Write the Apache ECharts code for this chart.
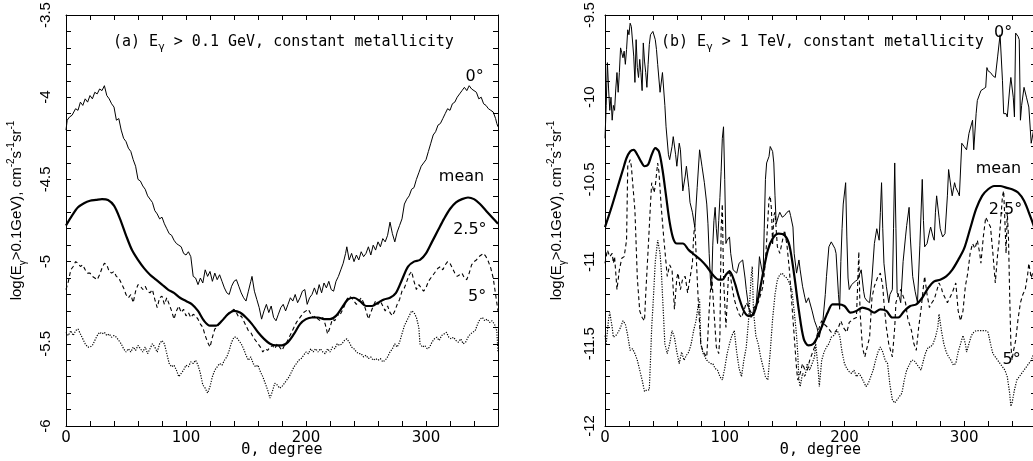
<!DOCTYPE html>
<html><head><meta charset="utf-8">
<script src="https://cdn.jsdelivr.net/npm/echarts@6/dist/echarts.min.js"></script>
<style>html,body{margin:0;padding:0;background:#fff}#c{width:1033px;height:461px}</style>
</head><body><div id="c"></div>
<script>
// ---------- tick labels ----------
const xTickLabels = [0, 100, 200, 300];
const yTickLabelsA = [-6, -5.5, -5, -4.5, -4, -3.5];
const yTickLabelsB = [-12, -11.5, -11, -10.5, -10, -9.5];

// ---------- curve labels [theta, value, text] ----------
const curveLabelsA = [[341, -3.88, '0°'], [330, -4.49, 'mean'], [337, -4.81, '2.5°'], [343, -5.22, '5°']];
const curveLabelsB = [[333, -9.61, '0°'], [329, -10.44, 'mean'], [335, -10.69, '2.5°'], [340, -11.6, '5°']];

// ---------- panel (a): E > 0.1 GeV ----------
const a0 = [[0,-4.2],[1,-4.14],[3,-4.12],[5,-4.11],[8,-4.07],[10,-4.08],[12,-4.03],[14,-4.05],[16,-4.01],[18,-4.03],[20,-3.99],[22,-4.01],[24,-3.97],[26,-3.98],[28,-3.95],[30,-3.96],[32,-3.93],[33,-3.92],[34,-3.99],[36,-4.01],[38,-4.04],[40,-4.06],[42,-4.14],[44,-4.13],[46,-4.2],[48,-4.25],[50,-4.27],[52,-4.31],[54,-4.33],[56,-4.38],[58,-4.42],[60,-4.5],[62,-4.51],[64,-4.54],[66,-4.56],[68,-4.6],[70,-4.62],[72,-4.64],[74,-4.69],[76,-4.71],[78,-4.74],[80,-4.73],[82,-4.77],[84,-4.8],[86,-4.83],[88,-4.84],[90,-4.87],[92,-4.89],[94,-4.9],[96,-4.91],[98,-4.95],[100,-4.96],[102,-4.94],[104,-4.97],[105,-4.96],[106,-5.09],[108,-5.1],[110,-5.14],[112,-5.1],[114,-5.13],[116,-5.05],[118,-5.09],[120,-5.06],[122,-5.12],[124,-5.07],[126,-5.11],[128,-5.08],[130,-5.12],[132,-5.16],[134,-5.19],[136,-5.2],[138,-5.15],[140,-5.12],[142,-5.11],[144,-5.15],[146,-5.19],[148,-5.22],[150,-5.24],[152,-5.18],[154,-5.12],[155,-5.09],[157,-5.18],[159,-5.23],[161,-5.28],[163,-5.35],[165,-5.3],[167,-5.26],[169,-5.31],[171,-5.27],[173,-5.34],[175,-5.36],[177,-5.32],[179,-5.28],[181,-5.26],[183,-5.3],[185,-5.26],[187,-5.22],[189,-5.24],[191,-5.2],[193,-5.25],[195,-5.22],[197,-5.18],[199,-5.17],[201,-5.26],[203,-5.22],[205,-5.2],[207,-5.16],[209,-5.2],[211,-5.14],[213,-5.19],[215,-5.13],[217,-5.16],[219,-5.12],[221,-5.17],[223,-5.18],[225,-5.12],[227,-5.09],[229,-5.05],[231,-5.01],[233,-4.95],[234,-4.91],[236,-4.99],[238,-4.95],[240,-5.0],[242,-4.96],[244,-4.99],[246,-4.94],[248,-4.97],[250,-4.95],[252,-4.91],[254,-4.96],[256,-4.9],[258,-4.93],[260,-4.88],[262,-4.91],[264,-4.86],[266,-4.88],[268,-4.84],[270,-4.76],[272,-4.83],[274,-4.88],[276,-4.82],[278,-4.78],[280,-4.74],[282,-4.65],[284,-4.62],[286,-4.6],[288,-4.56],[290,-4.55],[292,-4.5],[294,-4.46],[296,-4.42],[298,-4.4],[300,-4.38],[302,-4.33],[304,-4.28],[306,-4.23],[308,-4.21],[310,-4.17],[312,-4.16],[314,-4.13],[316,-4.1],[318,-4.07],[320,-4.08],[322,-4.04],[324,-4.03],[326,-4.0],[328,-3.98],[330,-3.96],[332,-3.94],[334,-3.96],[336,-3.93],[338,-3.95],[340,-3.96],[342,-3.97],[344,-4.01],[346,-4.0],[348,-4.04],[350,-4.05],[352,-4.07],[354,-4.08],[356,-4.09],[358,-4.13],[359,-4.16],[360,-4.18]];
const aMean = [[0,-4.78],[5,-4.72],[10,-4.67],[15,-4.645],[20,-4.63],[25,-4.625],[30,-4.62],[35,-4.625],[40,-4.66],[45,-4.74],[50,-4.84],[55,-4.93],[60,-4.99],[65,-5.04],[70,-5.08],[75,-5.11],[80,-5.14],[85,-5.17],[90,-5.19],[95,-5.22],[100,-5.24],[105,-5.26],[110,-5.3],[115,-5.36],[120,-5.39],[125,-5.39],[130,-5.36],[135,-5.32],[140,-5.3],[145,-5.31],[150,-5.34],[155,-5.38],[160,-5.43],[165,-5.47],[170,-5.5],[175,-5.51],[180,-5.51],[185,-5.49],[190,-5.44],[195,-5.38],[200,-5.35],[205,-5.34],[210,-5.34],[215,-5.35],[220,-5.35],[225,-5.33],[230,-5.28],[235,-5.23],[240,-5.22],[245,-5.24],[250,-5.27],[255,-5.27],[260,-5.25],[265,-5.23],[270,-5.22],[275,-5.19],[280,-5.11],[285,-5.03],[290,-5.0],[295,-4.99],[300,-4.95],[305,-4.88],[310,-4.81],[315,-4.74],[320,-4.68],[325,-4.64],[330,-4.62],[335,-4.61],[340,-4.62],[345,-4.65],[350,-4.69],[355,-4.73],[360,-4.77]];
const a25 = [[0,-5.17],[2,-5.12],[4,-5.05],[6,-5.03],[8,-5.0],[10,-5.01],[12,-5.03],[14,-5.02],[16,-5.05],[18,-5.07],[20,-5.07],[22,-5.09],[24,-5.1],[26,-5.11],[28,-5.08],[30,-5.04],[32,-5.01],[34,-5.02],[36,-5.06],[38,-5.07],[40,-5.06],[42,-5.09],[44,-5.1],[46,-5.13],[48,-5.16],[50,-5.2],[52,-5.22],[54,-5.2],[56,-5.25],[58,-5.18],[60,-5.14],[62,-5.15],[64,-5.17],[66,-5.15],[68,-5.18],[70,-5.19],[72,-5.17],[74,-5.23],[76,-5.28],[78,-5.22],[80,-5.21],[82,-5.26],[84,-5.22],[86,-5.26],[88,-5.3],[90,-5.35],[92,-5.3],[94,-5.27],[96,-5.31],[98,-5.29],[100,-5.33],[102,-5.31],[104,-5.34],[106,-5.32],[108,-5.33],[110,-5.35],[112,-5.38],[114,-5.4],[116,-5.45],[118,-5.49],[120,-5.52],[122,-5.46],[124,-5.41],[126,-5.4],[128,-5.37],[130,-5.36],[132,-5.34],[134,-5.33],[136,-5.31],[138,-5.3],[140,-5.29],[142,-5.31],[144,-5.34],[146,-5.33],[148,-5.36],[150,-5.39],[152,-5.42],[154,-5.43],[156,-5.46],[158,-5.48],[160,-5.5],[162,-5.52],[164,-5.55],[166,-5.53],[168,-5.54],[170,-5.52],[172,-5.51],[174,-5.53],[176,-5.5],[178,-5.52],[180,-5.54],[182,-5.51],[184,-5.49],[186,-5.46],[188,-5.43],[190,-5.4],[192,-5.37],[194,-5.35],[196,-5.33],[198,-5.31],[200,-5.3],[202,-5.29],[204,-5.32],[206,-5.34],[208,-5.33],[210,-5.35],[212,-5.36],[214,-5.34],[216,-5.38],[218,-5.44],[220,-5.4],[222,-5.35],[224,-5.36],[226,-5.32],[228,-5.33],[230,-5.3],[232,-5.27],[234,-5.23],[236,-5.21],[238,-5.22],[240,-5.24],[242,-5.26],[244,-5.24],[246,-5.22],[248,-5.25],[250,-5.3],[252,-5.35],[254,-5.31],[256,-5.27],[258,-5.24],[260,-5.26],[262,-5.24],[264,-5.27],[266,-5.3],[268,-5.27],[270,-5.31],[272,-5.33],[274,-5.3],[276,-5.26],[278,-5.23],[280,-5.18],[282,-5.16],[284,-5.12],[286,-5.08],[288,-5.06],[290,-5.12],[292,-5.17],[294,-5.14],[296,-5.16],[298,-5.18],[300,-5.16],[302,-5.12],[304,-5.1],[306,-5.08],[308,-5.06],[310,-5.04],[312,-5.03],[314,-5.05],[316,-5.02],[318,-5.0],[320,-5.01],[322,-5.04],[324,-5.07],[326,-5.09],[328,-5.08],[330,-5.07],[332,-5.1],[334,-5.11],[336,-5.07],[338,-5.02],[340,-5.0],[342,-4.99],[344,-4.97],[346,-4.96],[348,-4.95],[350,-4.97],[352,-5.0],[354,-5.04],[356,-5.1],[358,-5.2],[360,-5.3]];
const a5 = [[0,-5.43],[2,-5.45],[4,-5.42],[6,-5.45],[8,-5.42],[10,-5.41],[12,-5.44],[14,-5.47],[16,-5.5],[18,-5.52],[20,-5.52],[22,-5.51],[24,-5.48],[26,-5.45],[28,-5.43],[30,-5.44],[32,-5.43],[34,-5.45],[36,-5.44],[38,-5.46],[40,-5.45],[42,-5.46],[44,-5.48],[46,-5.5],[48,-5.53],[50,-5.55],[52,-5.53],[54,-5.55],[56,-5.52],[58,-5.54],[60,-5.51],[62,-5.53],[64,-5.55],[66,-5.52],[68,-5.56],[70,-5.53],[72,-5.5],[74,-5.52],[76,-5.55],[78,-5.5],[80,-5.48],[82,-5.5],[84,-5.56],[86,-5.62],[88,-5.64],[90,-5.63],[92,-5.66],[94,-5.7],[96,-5.68],[98,-5.66],[100,-5.63],[102,-5.64],[104,-5.61],[106,-5.62],[108,-5.6],[110,-5.63],[112,-5.68],[114,-5.75],[116,-5.77],[118,-5.8],[120,-5.76],[122,-5.7],[124,-5.66],[126,-5.64],[128,-5.62],[130,-5.63],[132,-5.6],[134,-5.58],[136,-5.54],[138,-5.49],[140,-5.46],[142,-5.46],[144,-5.48],[146,-5.5],[148,-5.53],[150,-5.57],[152,-5.6],[154,-5.58],[156,-5.62],[158,-5.64],[160,-5.63],[162,-5.67],[164,-5.7],[166,-5.74],[168,-5.78],[170,-5.83],[172,-5.79],[174,-5.74],[176,-5.75],[178,-5.77],[180,-5.76],[182,-5.74],[184,-5.72],[186,-5.7],[188,-5.67],[190,-5.64],[192,-5.62],[194,-5.6],[196,-5.59],[198,-5.57],[200,-5.55],[202,-5.56],[204,-5.53],[206,-5.55],[208,-5.53],[210,-5.55],[212,-5.53],[214,-5.55],[216,-5.56],[218,-5.53],[220,-5.55],[222,-5.52],[224,-5.53],[226,-5.5],[228,-5.51],[230,-5.5],[232,-5.48],[234,-5.47],[236,-5.49],[238,-5.52],[240,-5.53],[242,-5.55],[244,-5.56],[246,-5.56],[248,-5.58],[250,-5.57],[252,-5.59],[254,-5.58],[256,-5.6],[258,-5.59],[260,-5.6],[262,-5.59],[264,-5.61],[266,-5.6],[268,-5.58],[270,-5.55],[272,-5.53],[274,-5.5],[276,-5.52],[278,-5.49],[280,-5.44],[282,-5.39],[284,-5.36],[286,-5.33],[288,-5.3],[290,-5.31],[292,-5.34],[294,-5.4],[295,-5.5],[297,-5.52],[299,-5.51],[301,-5.53],[303,-5.52],[305,-5.49],[307,-5.47],[309,-5.46],[311,-5.48],[313,-5.45],[315,-5.44],[317,-5.43],[319,-5.46],[321,-5.47],[323,-5.46],[325,-5.48],[327,-5.49],[329,-5.47],[331,-5.5],[333,-5.49],[335,-5.46],[337,-5.44],[339,-5.43],[341,-5.42],[343,-5.38],[345,-5.35],[347,-5.34],[349,-5.36],[351,-5.35],[353,-5.37],[355,-5.36],[357,-5.38],[359,-5.42],[360,-5.55]];

// ---------- panel (b): E > 1 TeV ----------
const b0 = [[0,-10.25],[1,-10.05],[2,-9.79],[3,-9.95],[4,-10.08],[5,-10.0],[6,-10.14],[7,-10.05],[8,-10.08],[9,-9.95],[10,-9.85],[11,-9.97],[12,-9.85],[13,-9.7],[14,-9.73],[15,-9.76],[16,-9.72],[17,-9.8],[18,-9.71],[19,-9.59],[20,-9.62],[21,-9.55],[22,-9.57],[23,-9.58],[24,-9.75],[25,-9.91],[26,-9.65],[27,-9.82],[28,-9.88],[29,-9.77],[30,-9.85],[31,-9.96],[32,-9.67],[33,-9.78],[34,-9.85],[35,-9.94],[36,-9.8],[37,-9.68],[38,-9.62],[40,-9.6],[42,-9.65],[43,-9.71],[44,-9.8],[46,-9.97],[48,-9.85],[50,-10.05],[51,-10.18],[53,-10.35],[54,-10.38],[56,-10.3],[57,-10.24],[59,-10.35],[60,-10.42],[62,-10.28],[63,-10.32],[65,-10.57],[67,-10.48],[68,-10.42],[70,-10.55],[71,-10.64],[73,-10.7],[75,-10.79],[77,-10.55],[79,-10.32],[81,-10.42],[83,-10.52],[85,-10.65],[86,-10.77],[87,-10.95],[88,-11.1],[89,-11.17],[90,-10.9],[91,-10.75],[92,-10.67],[93,-10.8],[94,-10.89],[95,-10.75],[96,-10.61],[97,-10.45],[98,-10.25],[99,-10.18],[100,-10.5],[101,-10.89],[102,-10.87],[104,-10.85],[105,-10.95],[107,-11.05],[110,-11.07],[112,-11.01],[115,-10.99],[117,-11.1],[118,-11.17],[120,-11.28],[122,-11.34],[124,-11.3],[126,-11.29],[128,-11.1],[129,-10.97],[131,-11.05],[132,-11.09],[133,-10.8],[134,-10.5],[135,-10.4],[137,-10.36],[138,-10.3],[139,-10.29],[140,-10.33],[141,-10.4],[142,-10.6],[143,-10.77],[145,-10.72],[146,-10.7],[148,-10.73],[150,-10.72],[152,-10.7],[154,-10.69],[155,-10.72],[157,-10.79],[158,-10.95],[160,-11.07],[162,-10.99],[163,-11.05],[165,-11.15],[167,-11.22],[168,-11.25],[170,-11.22],[171,-11.23],[173,-11.3],[175,-11.36],[177,-11.4],[179,-11.46],[180,-11.42],[182,-11.36],[184,-11.2],[185,-11.09],[187,-10.91],[189,-10.88],[190,-10.87],[192,-10.92],[193,-10.95],[195,-11.2],[196,-11.29],[197,-11.0],[198,-10.8],[199,-10.65],[201,-10.52],[202,-10.85],[203,-11.1],[204,-11.17],[206,-11.14],[207,-11.13],[209,-11.12],[211,-11.11],[213,-11.07],[214,-11.05],[216,-11.18],[217,-11.22],[219,-11.24],[221,-11.25],[223,-11.1],[225,-10.89],[227,-10.8],[228,-10.79],[229,-10.87],[230,-10.7],[231,-10.52],[232,-10.8],[233,-11.01],[235,-11.15],[237,-11.25],[238,-11.2],[240,-11.17],[241,-10.8],[242,-10.4],[243,-10.8],[244,-11.19],[246,-11.22],[247,-11.25],[249,-11.0],[251,-10.85],[252,-10.78],[254,-10.67],[255,-10.85],[257,-11.09],[259,-11.18],[261,-11.25],[263,-10.9],[265,-10.5],[266,-10.75],[267,-10.91],[269,-10.89],[271,-10.82],[272,-10.79],[274,-10.85],[275,-10.87],[276,-10.7],[277,-10.6],[279,-10.73],[280,-10.8],[282,-10.85],[284,-10.83],[286,-10.6],[287,-10.44],[289,-10.55],[290,-10.6],[292,-10.52],[293,-10.55],[295,-10.58],[296,-10.6],[298,-10.28],[300,-10.3],[302,-10.32],[304,-10.22],[307,-10.14],[308,-10.32],[310,-10.1],[311,-10.02],[313,-9.98],[314,-9.96],[316,-9.95],[318,-9.94],[319,-9.82],[320,-9.84],[322,-9.85],[324,-9.87],[326,-9.88],[328,-9.75],[330,-9.62],[331,-9.61],[332,-9.9],[333,-10.1],[335,-10.1],[336,-10.12],[338,-9.95],[339,-9.88],[341,-10.0],[342,-10.12],[343,-9.61],[345,-9.63],[346,-9.65],[347,-10.14],[348,-10.05],[350,-9.94],[352,-10.0],[354,-10.06],[356,-10.28],[358,-10.2],[360,-10.15]];
const bMean = [[0,-10.79],[5,-10.68],[10,-10.56],[15,-10.44],[18,-10.37],[21,-10.33],[24,-10.32],[27,-10.35],[30,-10.39],[33,-10.42],[36,-10.41],[39,-10.35],[42,-10.31],[45,-10.33],[48,-10.44],[51,-10.6],[54,-10.76],[57,-10.86],[60,-10.89],[65,-10.89],[70,-10.93],[75,-10.96],[80,-10.99],[85,-11.03],[90,-11.08],[95,-11.11],[98,-11.11],[101,-11.08],[104,-11.06],[108,-11.12],[112,-11.22],[116,-11.3],[120,-11.33],[124,-11.32],[128,-11.22],[132,-11.07],[136,-10.93],[140,-10.86],[145,-10.83],[150,-10.84],[154,-10.9],[158,-11.08],[162,-11.3],[166,-11.47],[170,-11.51],[174,-11.5],[178,-11.45],[182,-11.38],[186,-11.31],[190,-11.26],[195,-11.26],[200,-11.27],[205,-11.31],[210,-11.3],[215,-11.28],[220,-11.29],[225,-11.31],[230,-11.29],[235,-11.3],[240,-11.34],[245,-11.34],[250,-11.3],[255,-11.27],[260,-11.26],[265,-11.22],[270,-11.16],[275,-11.12],[280,-11.11],[285,-11.09],[290,-11.05],[295,-10.99],[300,-10.92],[305,-10.8],[310,-10.68],[315,-10.6],[320,-10.56],[325,-10.54],[330,-10.54],[335,-10.55],[340,-10.56],[345,-10.58],[350,-10.63],[355,-10.72],[360,-10.82]];
const b25 = [[0,-11.01],[2,-10.93],[4,-10.97],[6,-10.95],[7,-11.01],[8,-10.97],[10,-11.17],[12,-11.05],[14,-10.98],[16,-10.97],[18,-10.87],[19,-10.42],[21,-10.38],[22,-10.42],[24,-10.6],[25,-10.69],[27,-11.1],[29,-11.3],[31,-11.34],[33,-11.36],[34,-11.2],[36,-10.93],[38,-10.65],[39,-10.52],[41,-10.58],[42,-10.54],[44,-10.4],[45,-10.45],[47,-10.67],[49,-10.85],[50,-10.93],[52,-11.09],[54,-11.02],[56,-11.05],[58,-11.29],[60,-11.1],[61,-11.07],[63,-11.17],[65,-11.1],[67,-11.09],[69,-11.19],[71,-11.1],[73,-11.01],[74,-10.85],[75,-10.77],[77,-11.1],[78,-11.25],[80,-11.5],[82,-11.55],[85,-11.58],[87,-11.3],[89,-11.07],[91,-11.3],[93,-11.52],[95,-11.56],[96,-11.45],[97,-10.8],[98,-10.65],[99,-11.1],[101,-11.4],[103,-11.1],[104,-11.05],[106,-11.15],[108,-11.23],[110,-11.28],[112,-11.32],[114,-11.34],[116,-11.3],[118,-11.25],[120,-11.28],[122,-11.31],[124,-11.29],[126,-11.26],[128,-11.25],[130,-11.2],[132,-11.15],[134,-11.0],[136,-10.75],[137,-10.62],[138,-10.6],[139,-10.68],[140,-10.9],[141,-10.72],[142,-10.7],[144,-10.91],[146,-10.95],[148,-10.88],[150,-10.81],[152,-10.9],[154,-11.05],[156,-11.25],[158,-11.45],[160,-11.65],[161,-11.72],[163,-11.68],[165,-11.62],[167,-11.66],[169,-11.66],[171,-11.6],[173,-11.56],[175,-11.52],[177,-11.45],[179,-11.4],[181,-11.36],[183,-11.38],[186,-11.4],[189,-11.43],[192,-11.43],[195,-11.4],[197,-11.36],[199,-11.4],[202,-11.43],[204,-11.37],[207,-11.35],[210,-11.34],[211,-11.15],[212,-10.94],[213,-11.3],[215,-11.52],[217,-11.58],[219,-11.52],[221,-11.46],[223,-11.22],[225,-11.15],[228,-11.09],[230,-11.07],[232,-11.15],[233,-11.25],[235,-11.4],[237,-11.5],[240,-11.58],[242,-11.4],[243,-11.25],[245,-11.2],[247,-11.17],[249,-11.21],[251,-11.25],[253,-11.35],[256,-11.42],[258,-11.5],[260,-11.54],[262,-11.4],[264,-11.29],[266,-11.15],[267,-11.09],[269,-11.2],[271,-11.28],[273,-11.25],[275,-11.23],[277,-11.18],[279,-11.13],[281,-11.16],[282,-11.19],[284,-11.22],[286,-11.25],[288,-11.22],[290,-11.19],[292,-11.15],[293,-11.13],[295,-11.3],[297,-11.36],[299,-11.3],[301,-11.15],[303,-11.07],[305,-10.95],[307,-10.89],[309,-10.92],[311,-10.87],[313,-10.95],[314,-11.01],[316,-10.85],[318,-10.73],[320,-10.76],[322,-10.79],[324,-10.95],[326,-11.13],[328,-10.95],[329,-10.89],[331,-10.7],[332,-10.6],[333,-10.57],[334,-10.75],[335,-10.95],[336,-10.7],[337,-10.85],[338,-11.2],[339,-11.5],[340,-11.6],[341,-11.55],[343,-11.48],[345,-11.35],[347,-11.25],[349,-11.2],[351,-11.17],[353,-11.08],[354,-11.01],[356,-11.1],[358,-11.05],[360,-11.0]];
const b5 = [[0,-11.45],[1,-11.5],[3,-11.35],[4,-11.31],[6,-11.4],[7,-11.46],[9,-11.45],[11,-11.43],[13,-11.4],[15,-11.36],[17,-11.38],[19,-11.45],[21,-11.54],[23,-11.53],[25,-11.56],[27,-11.6],[29,-11.66],[31,-11.72],[33,-11.79],[35,-11.78],[37,-11.78],[38,-11.6],[39,-11.4],[40,-11.28],[42,-11.0],[44,-10.87],[46,-10.95],[47,-11.05],[49,-11.35],[50,-11.5],[52,-11.56],[54,-11.5],[56,-11.42],[58,-11.46],[60,-11.55],[62,-11.62],[64,-11.55],[66,-11.6],[68,-11.57],[70,-11.55],[72,-11.5],[74,-11.42],[76,-11.36],[78,-11.26],[79,-11.23],[80,-11.5],[82,-11.56],[85,-11.6],[88,-11.62],[90,-11.62],[92,-11.65],[94,-11.66],[96,-11.7],[98,-11.72],[100,-11.65],[102,-11.56],[104,-11.5],[106,-11.45],[108,-11.42],[110,-11.55],[112,-11.65],[114,-11.7],[116,-11.6],[118,-11.52],[120,-11.35],[122,-11.1],[123,-11.03],[124,-11.3],[126,-11.45],[128,-11.5],[130,-11.58],[132,-11.64],[134,-11.7],[136,-11.72],[138,-11.55],[140,-11.35],[142,-11.2],[144,-11.11],[146,-11.08],[148,-11.07],[150,-11.09],[152,-11.1],[154,-11.13],[156,-11.17],[158,-11.3],[160,-11.45],[161,-11.56],[162,-11.72],[163,-11.76],[165,-11.68],[167,-11.7],[169,-11.62],[171,-11.66],[173,-11.62],[175,-11.58],[176,-11.5],[178,-11.65],[179,-11.76],[181,-11.6],[183,-11.55],[185,-11.52],[187,-11.5],[189,-11.46],[191,-11.45],[194,-11.42],[196,-11.45],[198,-11.55],[200,-11.62],[202,-11.65],[204,-11.67],[206,-11.68],[208,-11.66],[210,-11.7],[212,-11.68],[214,-11.7],[216,-11.73],[218,-11.76],[220,-11.74],[222,-11.7],[224,-11.66],[226,-11.6],[228,-11.55],[230,-11.52],[232,-11.55],[234,-11.6],[236,-11.62],[238,-11.75],[240,-11.84],[242,-11.86],[244,-11.84],[246,-11.82],[248,-11.8],[250,-11.72],[252,-11.66],[254,-11.63],[256,-11.6],[258,-11.6],[260,-11.62],[262,-11.64],[264,-11.66],[266,-11.6],[268,-11.55],[270,-11.52],[272,-11.52],[274,-11.5],[276,-11.46],[278,-11.4],[279,-11.32],[281,-11.42],[283,-11.5],[285,-11.55],[287,-11.58],[289,-11.6],[291,-11.63],[293,-11.62],[295,-11.55],[297,-11.5],[299,-11.45],[301,-11.5],[302,-11.55],[304,-11.5],[306,-11.45],[308,-11.43],[310,-11.42],[312,-11.42],[314,-11.42],[316,-11.42],[318,-11.42],[320,-11.43],[322,-11.5],[324,-11.56],[326,-11.58],[328,-11.6],[330,-11.62],[332,-11.64],[334,-11.66],[336,-11.7],[338,-11.8],[339,-11.88],[340,-11.86],[342,-11.78],[344,-11.72],[346,-11.7],[348,-11.68],[350,-11.66],[352,-11.64],[354,-11.62],[356,-11.6],[358,-11.56],[360,-11.55]];

// ---------- rendering ----------
const chart = echarts.init(document.getElementById('c'), null, {renderer: 'canvas'});
const pick = arr => v => { const m = arr.find(a => Math.abs(a - v) < 1e-6); return m === undefined ? '' : String(m); };
const MONO = 'DejaVu Sans Mono', SANS = 'DejaVu Sans', HEL = 'Liberation Sans';
const grids = [
  {left: 66, top: 15, width: 432, height: 411, outerBoundsMode: 'none'},
  {left: 605, top: 15, width: 431, height: 411, outerBoundsMode: 'none'}
];
const tick = {show: true, inside: true, length: 5, lineStyle: {color: '#000', width: 1}};
const line = {show: true, onZero: false, lineStyle: {color: '#000', width: 1}};
function xAx(g, top) {
  return {type: 'value', gridIndex: g, position: top ? 'top' : 'bottom', min: 0, max: 360, interval: 20,
    axisLine: line, axisTick: tick, splitLine: {show: false},
    axisLabel: top ? {show: false} : {show: true, margin: 5, color: '#000', fontFamily: SANS, fontSize: 15, formatter: pick(xTickLabels), showMaxLabel: true, showMinLabel: true, hideOverlap: false},
    name: top ? '' : 'Θ, degree', nameLocation: 'middle', nameGap: 17, nameMoveOverlap: false,
    nameTextStyle: {fontFamily: MONO, fontSize: 15, color: '#000'}};
}
const yNameRich = {
  n: {fontFamily: HEL, fontSize: 15, color: '#000', lineHeight: 22, verticalAlign: 'middle'},
  s: {fontFamily: HEL, fontSize: 10, color: '#000', lineHeight: 10, verticalAlign: 'bottom'},
  p: {fontFamily: HEL, fontSize: 10, color: '#000', lineHeight: 10, verticalAlign: 'top'}
};
const yName = '{n|log(E}{s|γ}{n|>0.1GeV), cm}{p|-2}{n|s}{p|-1}{n|sr}{p|-1}';
function yAx(g, right, min, max, labels, margin, gap) {
  return {type: 'value', gridIndex: g, position: right ? 'right' : 'left', min: min, max: max, interval: 0.1,
    axisLine: line, axisTick: tick, splitLine: {show: false},
    axisLabel: right ? {show: false} : {show: true, rotate: 90, margin: margin, color: '#000', fontFamily: HEL, fontSize: 15, formatter: pick(labels), showMaxLabel: true, showMinLabel: true, hideOverlap: false},
    name: right ? '' : yName, nameLocation: 'middle', nameRotate: 90, nameGap: gap, nameMoveOverlap: false,
    nameTextStyle: {rich: yNameRich, padding: [0, 0, 0, 20]}};
}
const titleRich = {
  n: {fontFamily: MONO, fontSize: 15, fontWeight: 'normal', color: '#000', lineHeight: 22, verticalAlign: 'middle'},
  s: {fontFamily: MONO, fontSize: 11, fontWeight: 'normal', color: '#000', lineHeight: 11, verticalAlign: 'bottom'}
};
function curve(g, data, style) {
  return Object.assign({type: 'line', xAxisIndex: g, yAxisIndex: g, data: data, showSymbol: false, symbol: 'none',
    animation: false, silent: true, clip: true}, style);
}
const S0 = {lineStyle: {color: '#000', width: 1}};
const SM = {lineStyle: {color: '#000', width: 2.2}, smooth: 0.3};
const S25 = {lineStyle: {color: '#000', width: 1.1, type: [4, 3]}};
const S5 = {lineStyle: {color: '#000', width: 1.2, type: [1.2, 1.4]}};
function labels(g, data) {
  return {type: 'scatter', xAxisIndex: g, yAxisIndex: g, data: data, symbolSize: 1, silent: true, animation: false,
    itemStyle: {color: '#fff', opacity: 1},
    label: {show: true, position: [0, 0], align: 'center', verticalAlign: 'middle', formatter: p => p.value[2],
      color: '#000', fontFamily: SANS, fontSize: 16, textBorderWidth: 0}};
}
chart.setOption({
  backgroundColor: '#fff',
  animation: false,
  title: [
    {text: '{n|(a) E}{s|γ}{n| > 0.1 GeV, constant metallicity}', left: 108, top: 26, textStyle: {fontWeight: 'normal', rich: titleRich}},
    {text: '{n|(b) E}{s|γ}{n| > 1 TeV, constant metallicity}', left: 656, top: 26, textStyle: {fontWeight: 'normal', rich: titleRich}}
  ],
  grid: grids,
  xAxis: [xAx(0, false), xAx(1, false), xAx(0, true), xAx(1, true)],
  yAxis: [yAx(0, false, -6, -3.5, yTickLabelsA, 13, 38), yAx(1, false, -12, -9.5, yTickLabelsB, 8, 37),
          yAx(0, true, -6, -3.5, yTickLabelsA), yAx(1, true, -12, -9.5, yTickLabelsB)],
  series: [
    curve(0, a5, S5), curve(0, a25, S25), curve(0, aMean, SM), curve(0, a0, S0), labels(0, curveLabelsA),
    curve(1, b5, S5), curve(1, b25, S25), curve(1, bMean, SM), curve(1, b0, S0), labels(1, curveLabelsB)
  ]
});
</script></body></html>
